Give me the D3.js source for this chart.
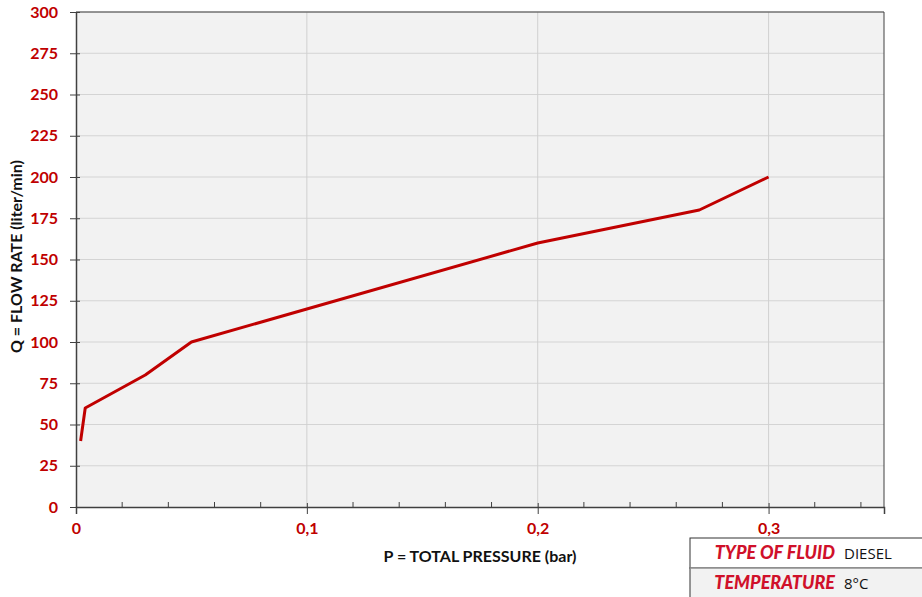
<!DOCTYPE html>
<html>
<head>
<meta charset="utf-8">
<script src="https://cdn.jsdelivr.net/npm/d3@7.9.0/dist/d3.min.js"></script>
<style>
  body { margin: 0; background: #fff; }
  svg { display: block; }
</style>
</head>
<body>
<svg id="chart" width="922" height="597"></svg>
<script>
// data
const pressure = [0.002, 0.004, 0.03, 0.05, 0.1, 0.2, 0.27, 0.3];
const flow = [40, 60, 80, 100, 120, 160, 180, 200];
const xMajor = [0, 0.1, 0.2, 0.3];
const xMinor = [0.02, 0.04, 0.06, 0.08, 0.12, 0.14, 0.16, 0.18, 0.22, 0.24, 0.26, 0.28, 0.32, 0.34];
const yTicks = [0, 25, 50, 75, 100, 125, 150, 175, 200, 225, 250, 275, 300];
const infoRows = [
  { label: 'TYPE OF FLUID', value: 'DIESEL' },
  { label: 'TEMPERATURE', value: '8\u00b0C' }
];

const red = '#c00000';
const svg = d3.select('#chart');
const margin = { left: 76, top: 12, right: 38, bottom: 90 };
const W = 922, H = 597;

const x = d3.scaleLinear().domain([0, 0.35]).range([margin.left, W - margin.right]);
const y = d3.scaleLinear().domain([0, 300]).range([H - margin.bottom, margin.top]);

// plot background
svg.append('rect')
  .attr('x', x(0)).attr('y', y(300))
  .attr('width', x(0.35) - x(0)).attr('height', y(0) - y(300))
  .attr('fill', '#f2f2f2');

// gridlines
svg.append('g').selectAll('line').data(yTicks.filter(d => d > 0)).join('line')
  .attr('x1', x(0)).attr('x2', x(0.35))
  .attr('y1', d => y(d)).attr('y2', d => y(d))
  .attr('stroke', '#d4d4d4').attr('stroke-width', 1);
svg.append('g').selectAll('line').data(xMajor.filter(d => d > 0)).join('line')
  .attr('x1', d => x(d)).attr('x2', d => x(d))
  .attr('y1', y(0)).attr('y2', y(300))
  .attr('stroke', '#d0d0d0').attr('stroke-width', 1);

// frame top/right
svg.append('path')
  .attr('d', `M${x(0)},${y(300)}H${x(0.35)}V${y(0)}`)
  .attr('fill', 'none').attr('stroke', '#404040').attr('stroke-width', 1);

// y axis
const yAxis = svg.append('g')
  .attr('transform', `translate(${x(0)},0)`)
  .call(d3.axisLeft(y).tickValues(yTicks).tickSizeInner(6).tickSizeOuter(0).tickPadding(12));
yAxis.select('.domain').attr('stroke', '#404040').attr('stroke-width', 1.5);
yAxis.selectAll('.tick line').attr('x2', 4).attr('x1', -6).attr('stroke', '#404040');
yAxis.selectAll('.tick text')
  .attr('fill', red).attr('font-family', 'Lato, "Open Sans", sans-serif')
  .attr('font-weight', 'bold').attr('font-size', 16);

// x axis major
const xAxis = svg.append('g')
  .attr('transform', `translate(0,${y(0)})`)
  .call(d3.axisBottom(x).tickValues(xMajor).tickSizeOuter(0).tickSize(7).tickPadding(9)
    .tickFormat(d => d === 0 ? '0' : d3.format('.1f')(d).replace('.', ',')));
xAxis.select('.domain').attr('stroke', '#404040').attr('stroke-width', 1.5);
xAxis.selectAll('.tick line').attr('y1', -4).attr('stroke', '#404040');
xAxis.selectAll('.tick text')
  .attr('fill', red).attr('font-family', 'Lato, "Open Sans", sans-serif')
  .attr('font-weight', 'bold').attr('font-size', 16);

// x axis minor ticks (inward)
svg.append('g').selectAll('line').data(xMinor).join('line')
  .attr('x1', d => x(d)).attr('x2', d => x(d))
  .attr('y1', y(0)).attr('y2', y(0) - 5)
  .attr('stroke', '#404040').attr('stroke-width', 1);

// curve
svg.append('path')
  .datum(pressure.map((p, i) => [p, flow[i]]))
  .attr('d', d3.line().x(d => x(d[0])).y(d => y(d[1])))
  .attr('fill', 'none').attr('stroke', red).attr('stroke-width', 3)
  .attr('stroke-linejoin', 'round');

// axis titles
svg.append('text')
  .attr('x', (x(0) + x(0.35)) / 2).attr('y', 562)
  .attr('text-anchor', 'middle')
  .attr('font-family', 'Lato, "Open Sans", sans-serif').attr('font-weight', 'bold')
  .attr('font-size', 16).attr('fill', '#111')
  .text('P = TOTAL PRESSURE (bar)');
svg.append('text')
  .attr('transform', `translate(22,${(y(0) + y(300)) / 2 - 3}) rotate(-90)`)
  .attr('text-anchor', 'middle')
  .attr('font-family', 'Lato, "Open Sans", sans-serif').attr('font-weight', 'bold')
  .attr('font-size', 16).attr('fill', '#111')
  .text('Q = FLOW RATE (liter/min)');

// info box
const boxX = 690, boxY = 538, rowH = 30;
const info = svg.append('g');
info.selectAll('rect').data(infoRows).join('rect')
  .attr('x', boxX).attr('y', (d, i) => boxY + i * rowH)
  .attr('width', W - boxX + 2).attr('height', rowH)
  .attr('fill', (d, i) => i === 0 ? '#fff' : '#f2f2f2')
  .attr('stroke', '#333').attr('stroke-width', 1);
info.selectAll('line.row').data(infoRows.slice(1)).join('line')
  .attr('class', 'row')
  .attr('x1', boxX).attr('x2', W)
  .attr('y1', (d, i) => boxY + (i + 1) * rowH).attr('y2', (d, i) => boxY + (i + 1) * rowH)
  .attr('stroke', '#bbb');
info.selectAll('text.lab').data(infoRows).join('text')
  .attr('class', 'lab')
  .attr('x', 835).attr('y', (d, i) => boxY + i * rowH + 21)
  .attr('text-anchor', 'end')
  .attr('font-family', 'Lato, "Open Sans", sans-serif').attr('font-weight', 900)
  .attr('font-style', 'italic').attr('font-size', 18).attr('fill', '#d0102a')
  .text(d => d.label);
info.selectAll('text.val').data(infoRows).join('text')
  .attr('class', 'val')
  .attr('x', 844).attr('y', (d, i) => boxY + i * rowH + 21)
  .attr('font-family', '"Open Sans", sans-serif')
  .attr('font-size', 15).attr('fill', '#111')
  .text(d => d.value);
</script>
</body>
</html>
